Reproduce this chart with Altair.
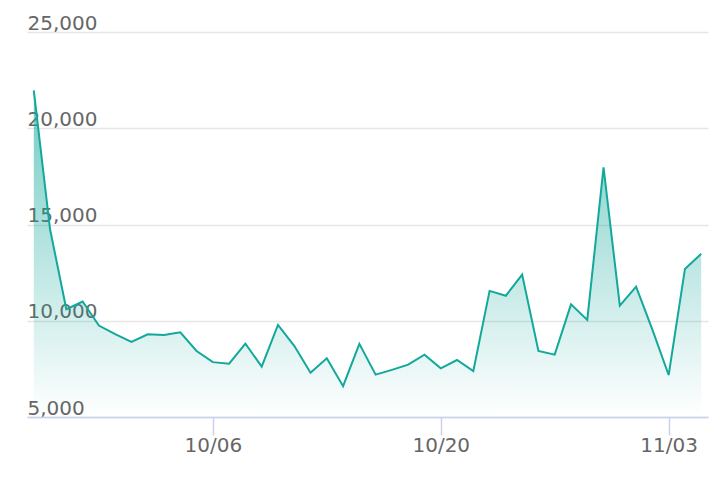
import altair as alt
import pandas as pd

dates = [d.strftime("%Y-%m-%dT00:00:00") for d in pd.date_range("2023-09-25", "2023-11-05", freq="D")]
values = [21970, 14750, 10600, 11000, 9750, 9300, 8900, 9300, 9260, 9400,
          8430, 7850, 7770, 8810, 7615, 9780, 8700, 7300, 8050, 6600,
          8800, 7200, 7450, 7720, 8240, 7530, 7960, 7390, 11550, 11300,
          12400, 8430, 8240, 10850, 10040, 17970, 10780, 11770, 9540, 7180,
          12690, 13480]
y_ticks = [5000, 10000, 15000, 20000, 25000]
x_ticks = [alt.DateTime(year=2023, month=10, date=6),
           alt.DateTime(year=2023, month=10, date=20),
           alt.DateTime(year=2023, month=11, date=3)]

df = pd.DataFrame({"date": dates, "value": values})

LINE = "#12a89b"
FONT = "DejaVu Sans"

x_enc = alt.X(
    "date:T",
    scale=alt.Scale(domain=[alt.DateTime(year=2023, month=9, date=24, hours=14),
                            alt.DateTime(year=2023, month=11, date=5, hours=10)]),
    axis=alt.Axis(values=x_ticks, format="%m/%d", title=None, grid=False,
                  domainColor="#c8d2ea", domainWidth=1.5, tickColor="#c8d2ea",
                  tickSize=18, tickWidth=1.5, labelColor="#666666", labelFont=FONT,
                  labelFontSize=20, labelPadding=0, labelFlush=False, zindex=1),
)
y_enc = alt.Y(
    "value:Q",
    scale=alt.Scale(domain=[5000, 25000], nice=False, zero=False),
    axis=alt.Axis(values=y_ticks, format=",d", title=None, grid=True,
                  gridColor="#e6e6e6", gridWidth=1.5, domain=False, ticks=False,
                  tickSize=0, labelAlign="left", labelBaseline="alphabetic",
                  labelPadding=0, labelOffset=-3, labelFlush=False, labelColor="#666666",
                  labelFont=FONT, labelFontSize=20),
)

chart = alt.Chart(df).mark_area(
    line={"color": LINE, "strokeWidth": 2},
    color=alt.Gradient(
        gradient="linear",
        stops=[alt.GradientStop(color="rgba(18,168,155,0.85)", offset=0),
               alt.GradientStop(color="rgba(18,168,155,0.0)", offset=1)],
        x1=0, x2=0, y1=0, y2=1,
    ),
).encode(x=x_enc, y=y_enc, y2=alt.datum(5000)).properties(
    width=681, height=385,
    autosize=alt.AutoSizeParams(type="none"),
    padding={"left": 19, "top": 24, "right": 10, "bottom": 45},
).configure_view(stroke=None)

chart.save("out.html", embed_options={"renderer": "svg", "actions": False})
